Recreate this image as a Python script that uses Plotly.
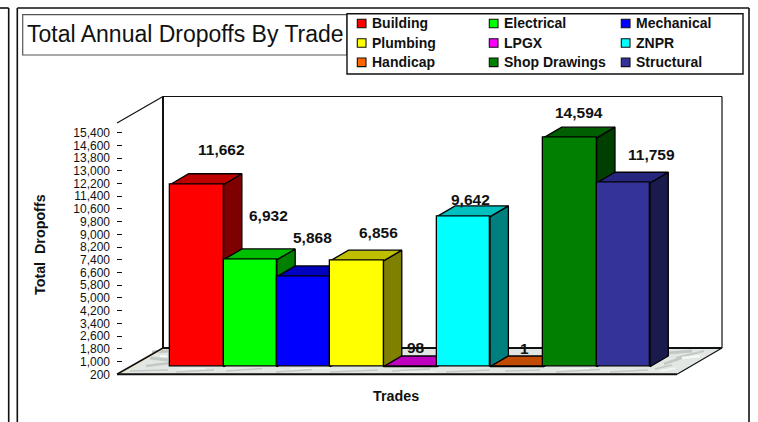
import plotly.graph_objects as go

# ---- data ----
trades = ["Building", "Electrical", "Mechanical", "Plumbing", "LPGX", "ZNPR",
          "Handicap", "Shop Drawings", "Structural"]
dropoffs = [11662, 6932, 5868, 6856, 98, 9642, 1, 14594, 11759]
front_colors = ["#ff0000", "#00ff00", "#0000ff", "#ffff00", "#ff00ff", "#00ffff",
                "#ff6600", "#007f00", "#333399"]
top_colors = ["#bf0000", "#00bf00", "#0000bf", "#bfbf00", "#bf00bf", "#00bfbf",
              "#bf4c00", "#005f00", "#26267f"]
side_colors = ["#7f0000", "#007f00", "#00007f", "#7f7f00", "#7f007f", "#007f7f",
               "#7f3300", "#003f00", "#1a1a4d"]
tick_values = list(range(200, 15401, 800))

# per-label placement relative to the bar top (pixels)
label_xshift = [25, 18, 9, 22, 6, 7, 8, 9, 28]
label_yshift = [35, 44, 39, 28, 19, 17, 18, 25, 28]

# ---- geometry ----
W, H = 758, 422
PX_L, PX_R, PX_T, PX_B = 117.0, 722.0, 96.5, 374.3   # plot area, pixels
BACK_X, FRONT_R, BACK_B = 163.0, 677.0, 348.0
Y_MIN = 200
UNITS_PER_PX = 62.9
Y_MAX = Y_MIN + (PX_B - PX_T) * UNITS_PER_PX
BAR_PX = 53.3
X0 = -0.5 + (PX_L - 170.3) / BAR_PX
X1 = -0.5 + (PX_R - 170.3) / BAR_PX
BAR_SHIFT = 7.6 * UNITS_PER_PX     # bars stand a little behind the front edge
BASE = Y_MIN + BAR_SHIFT
DEPTH_X = 18.3 / BAR_PX
DEPTH_Y = 10.7 * UNITS_PER_PX
FONT = "Liberation Sans, Arial, sans-serif"
INK = "#111111"


def fx(px):
    return px / W


def fy(py):
    return 1 - py / H


fig = go.Figure()

# depth faces (top and side), painted left to right
for i, v in enumerate(dropoffs):
    left, right = i - 0.5, i + 0.5
    top = max(v, Y_MIN) + BAR_SHIFT
    fig.add_trace(go.Scatter(
        x=[right, right + DEPTH_X, right + DEPTH_X, right, right],
        y=[BASE, BASE + DEPTH_Y, top + DEPTH_Y, top, BASE],
        mode="lines", fill="toself", fillcolor=side_colors[i],
        line=dict(color="black", width=1.3), showlegend=False, hoverinfo="skip"))
    fig.add_trace(go.Scatter(
        x=[left, right, right + DEPTH_X, left + DEPTH_X, left],
        y=[top, top, top + DEPTH_Y, top + DEPTH_Y, top],
        mode="lines", fill="toself", fillcolor=top_colors[i],
        line=dict(color="black", width=1.3), showlegend=False, hoverinfo="skip"))

# front faces
fig.add_trace(go.Bar(
    x=trades, y=[max(v - Y_MIN, 0) for v in dropoffs], base=BASE,
    width=1, marker=dict(color=front_colors, line=dict(color="black", width=1.3)),
    xaxis="x2", yaxis="y2", showlegend=False, customdata=dropoffs,
    hovertemplate="%{x}: %{customdata:,}<extra></extra>"))

shapes = []


def line(x0, y0, x1, y1, width=1.5, color=INK, layer="below"):
    shapes.append(dict(type="line", xref="paper", yref="paper", layer=layer,
                       x0=fx(x0), y0=fy(y0), x1=fx(x1), y1=fy(y1),
                       line=dict(color=color, width=width)))


def poly(points, fill, width=0, color=None, layer="below"):
    path = "M" + " L".join(f"{fx(x):.5f},{fy(y):.5f}" for x, y in points) + " Z"
    shapes.append(dict(type="path", xref="paper", yref="paper", path=path, layer=layer,
                       fillcolor=fill, line=dict(color=color or fill, width=width)))


def rect(x0, y0, x1, y1, fill="rgba(0,0,0,0)", width=1.2, color=INK, layer="below"):
    shapes.append(dict(type="rect", xref="paper", yref="paper", layer=layer,
                       x0=fx(x0), y0=fy(y0), x1=fx(x1), y1=fy(y1), fillcolor=fill,
                       line=dict(color=color, width=width)))


# page frames
line(0, 8, 8.7, 8, 1.6)
line(8.7, 8, 8.7, 422, 1.6)
line(17.3, 8, 749, 8, 1.6)
line(17.3, 8, 17.3, 422, 1.6)
line(749, 8, 749, 422, 1.6)

# floor with a marble look
poly([(PX_L, PX_B), (FRONT_R, PX_B), (PX_R, BACK_B), (BACK_X, BACK_B)], "#e3e7e3")
for x0, y0, x1, y1, w in [
    (152, 352, 168, 351, 3), (150, 358, 168, 360, 3), (146, 366, 170, 363, 2.5),
    (130, 371, 168, 370, 1.5), (176, 372, 214, 370, 1.5), (226, 371, 262, 368.5, 1.5),
    (276, 372, 312, 369.5, 1.5), (330, 372, 378, 370, 1.5), (392, 371, 430, 369, 1.5),
    (446, 372, 490, 370, 1.5), (505, 371, 540, 370, 1.5), (556, 372, 600, 369.5, 1.5),
    (610, 372, 648, 370, 1.5), (668, 353, 692, 351, 3), (676, 358, 704, 351, 2),
    (664, 364, 684, 357, 2.5), (655, 369, 672, 365, 1.5),
]:
    line(x0, y0, x1, y1, w, "#c2c8c4")
for x0, y0, x1, y1, w in [
    (160, 356, 167, 356, 2), (180, 369, 206, 368.5, 1.2), (290, 369, 330, 368, 1.2),
    (400, 372, 436, 372, 1.2), (560, 369, 590, 368.5, 1.2), (682, 358, 700, 356, 2.5),
    (660, 371, 676, 368, 1.5),
]:
    line(x0, y0, x1, y1, w, "#f6f8f5")
poly([(PX_L, PX_B), (BACK_X, BACK_B), (BACK_X + 3, BACK_B), (PX_L + 4, PX_B)], "#f3edc8")

# walls
line(PX_L, 123, BACK_X, PX_T, 1.2)
line(PX_L, PX_B, BACK_X, BACK_B, 1.6)
line(BACK_X, PX_T, BACK_X, BACK_B, 2)
line(BACK_X, PX_T, PX_R, PX_T, 1.2)
line(PX_R, PX_T, PX_R, BACK_B, 1.2)
line(BACK_X, BACK_B, PX_R, BACK_B, 2)
line(PX_R, BACK_B, FRONT_R, PX_B, 1.2)
line(PX_L, PX_B, FRONT_R, PX_B, 2)

# title and legend boxes
rect(22.7, 14.7, 347, 55, color="#555555")
rect(347, 13.7, 743, 74, fill="white", width=1.4, layer="above")

annotations = []


def text(x, y, s, size, bold=False, anchor="center", angle=0):
    annotations.append(dict(
        xref="paper", yref="paper", x=fx(x), y=fy(y), text=f"<b>{s}</b>" if bold else s,
        showarrow=False, xanchor=anchor, yanchor="middle", textangle=angle,
        font=dict(family=FONT, size=size, color=INK)))


# legend
legend_cols = [357.3, 489.3, 621.3]
legend_rows = [23.5, 43, 62.3]
for i, name in enumerate(trades):
    cx = legend_cols[i % 3]
    cy = legend_rows[i // 3]
    rect(cx, cy - 4.3, cx + 8.7, cy + 4.3, fill=front_colors[i], width=1.1, layer="above")
    text(cx + 12.2, cy, name, 14, bold=True, anchor="left")

# axis titles
text(40, 245, "Total&nbsp;&nbsp;Dropoffs", 14.3, bold=True, angle=-90)
text(396, 396, "Trades", 14.3, bold=True)

# value labels
for i, v in enumerate(dropoffs):
    top = max(v, Y_MIN) + BAR_SHIFT
    annotations.append(dict(
        xref="x", yref="y", x=i, y=top, text=f"<b>{v:,}</b>", showarrow=False,
        xanchor="center", yanchor="middle",
        xshift=label_xshift[i], yshift=label_yshift[i],
        font=dict(family=FONT, size=15.5, color=INK)))

dom_x = [fx(PX_L), fx(PX_R)]
dom_y = [fy(PX_B), fy(PX_T)]

fig.update_layout(
    width=W, height=H, margin=dict(l=0, r=0, t=0, b=0, pad=0, autoexpand=False),
    paper_bgcolor="white", plot_bgcolor="rgba(0,0,0,0)", autosize=False,
    font=dict(family=FONT, color=INK),
    title=dict(text="Total Annual Dropoffs By Trade", xref="paper", yref="paper",
               x=fx(27), xanchor="left", y=fy(34), yanchor="middle",
               font=dict(family=FONT, size=23, color=INK), pad=dict(l=0, t=0, b=0, r=0)),
    xaxis=dict(domain=dom_x, range=[X0, X1], visible=False, fixedrange=True),
    yaxis=dict(domain=dom_y, range=[Y_MIN, Y_MAX], tickmode="array",
               tickvals=tick_values, ticktext=[f"{t:,}" for t in tick_values],
               ticks="inside", ticklen=5, tickwidth=1.3, tickcolor=INK,
               ticklabelstandoff=6, showgrid=False, zeroline=False, showline=False,
               tickfont=dict(family=FONT, size=12, color=INK), fixedrange=True),
    xaxis2=dict(domain=dom_x, range=[X0, X1], type="category", categoryorder="array",
                categoryarray=trades, overlaying="x", visible=False, fixedrange=True),
    yaxis2=dict(domain=dom_y, range=[Y_MIN, Y_MAX], overlaying="y", visible=False,
                fixedrange=True),
    shapes=shapes, annotations=annotations, bargap=0, hovermode="closest",
)

fig.write_html(
    "out.html", config=dict(displayModeBar=False),
    post_script="document.body.style.margin='0';document.documentElement.style.overflow='hidden';")
